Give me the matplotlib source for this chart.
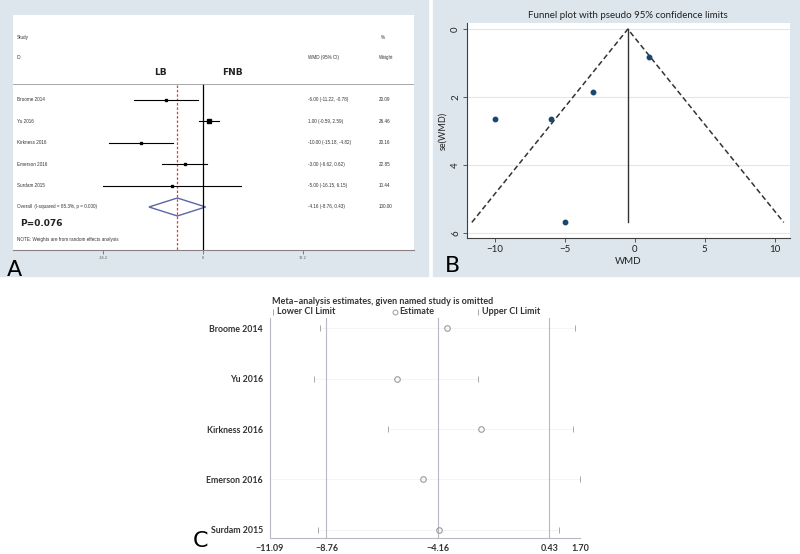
import matplotlib.pyplot as plt
from matplotlib.patches import Rectangle, Polygon
from matplotlib.lines import Line2D
import matplotlib.transforms as mtransforms

# ============== DATA ==============
studies = ["Broome 2014", "Yu 2016", "Kirkness 2016", "Emerson 2016", "Surdam 2015"]
wmd = [-6.00, 1.00, -10.00, -3.00, -5.00]
ci_low = [-11.22, -0.59, -15.18, -6.62, -16.15]
ci_high = [-0.78, 2.59, -4.82, 0.62, 6.15]
weights = [20.09, 26.46, 20.16, 22.85, 10.44]
overall = [-4.16, -8.76, 0.43]  # estimate, lower, upper
overall_label = "Overall  (I-squared = 85.3%, p = 0.000)"
p_text = "P=0.076"

# funnel plot (B)
se_wmd = [2.66, 0.81, 2.64, 1.85, 5.69]
funnel_center = -0.5
funnel_max_se = 5.69

# leave-one-out (C)
loo_lower = [-9.03, -9.27, -6.22, -11.09, -9.11]
loo_est = [-3.79, -5.85, -2.39, -4.78, -4.12]
loo_upper = [1.49, -2.51, 1.41, 1.70, 0.83]
c_ticks = [-11.09, -8.76, -4.16, 0.43, 1.70]

# ==================================

W, H = 800, 554
BG = '#dce6ec'


def box(x0, y0, x1, y1):
    return [x0 / W, 1 - y1 / H, (x1 - x0) / W, (y1 - y0) / H]


fig = plt.figure(figsize=(8, 5.54), dpi=100)
fig.patch.set_facecolor('white')

# panel backgrounds
fig.patches.append(Rectangle((0, 1 - 276 / H), 428 / W, 276 / H, transform=fig.transFigure,
                             color=BG, zorder=-5))
fig.patches.append(Rectangle((433 / W, 1 - 276 / H), 367 / W, 276 / H, transform=fig.transFigure,
                             color=BG, zorder=-5))

# ---------------- A: forest plot ----------------
axA = fig.add_axes(box(13, 15, 414, 250))
axA.set_facecolor('white')
axA.set_xlim(-30.8, 34.2)
axA.set_ylim(7.01, -3.97)
for s in ['top', 'left', 'right']:
    axA.spines[s].set_visible(False)
axA.spines['bottom'].set_color('#8a8080')
axA.spines['bottom'].set_linewidth(0.8)
axA.set_yticks([])
axA.set_xticks([-16.15, 0, 16.15])
axA.set_xticklabels(['-16.2', '0', '16.2'], fontsize=2.5, color='#555555')
axA.tick_params(axis='x', length=3, width=0.5, pad=1, color='#555555')

tA = mtransforms.blended_transform_factory(axA.transAxes, axA.transData)
fA = dict(fontsize=3.3, color='#333333', family='Liberation Sans', va='center', transform=tA)
axA.text(0.01, -2.94, "Study", **fA)
axA.text(0.01, -2.0, "ID", **fA)
axA.text(0.735, -2.0, "WMD (95% CI)", **fA)
axA.text(0.918, -2.94, "%", **fA)
axA.text(0.913, -2.0, "Weight", **fA)
axA.axhline(-0.75, color='#999999', lw=0.6)
axA.text(-6.9, -1.3, "LB", fontsize=6.5, ha='center', va='center', color='#222222', fontweight='semibold')
axA.text(4.8, -1.3, "FNB", fontsize=6.5, ha='center', va='center', color='#222222', fontweight='semibold')

axA.plot([0, 0], [-0.7, 7.01], color='black', lw=0.9)
axA.plot([overall[0], overall[0]], [-0.7, 7.01], color='#e03c3c', lw=0.9, ls=(0, (2, 1.5)))

for i, name in enumerate(studies):
    axA.plot([ci_low[i], ci_high[i]], [i, i], color='black', lw=0.8)
    axA.plot(wmd[i], i, marker='s', color='black', markersize=weights[i] ** 0.5 * 0.45)
    axA.text(0.01, i, name, **fA)
    axA.text(0.735, i, "%.2f (%.2f, %.2f)" % (wmd[i], ci_low[i], ci_high[i]), **fA)
    axA.text(0.913, i, "%.2f" % weights[i], **fA)

ny = len(studies)
axA.add_patch(Polygon([[overall[1], ny], [overall[0], ny - 0.42], [overall[2], ny], [overall[0], ny + 0.42]],
                      closed=True, fill=False, edgecolor='#5b66a6', lw=1.0))
axA.text(0.01, ny, overall_label, **fA)
axA.text(0.735, ny, "%.2f (%.2f, %.2f)" % (overall[0], overall[1], overall[2]), **fA)
axA.text(0.913, ny, "%.2f" % sum(weights), **fA)
axA.text(0.018, 5.75, p_text, fontsize=6.5, fontweight='semibold', color='#222222', va='center', transform=tA)
axA.text(0.01, 6.54, "NOTE: Weights are from random effects analysis", **fA)

fig.text(7 / W, 1 - 270 / H, "A", fontsize=16, va='center', ha='left', color='black')

# ---------------- B: funnel plot ----------------
axB = fig.add_axes(box(467, 23, 790, 238))
axB.set_facecolor('white')
axB.set_xlim(-12.0, 11.1)
axB.set_ylim(6.15, -0.18)
for s in ['top', 'right']:
    axB.spines[s].set_visible(False)
for s in ['left', 'bottom']:
    axB.spines[s].set_color('#404040')
    axB.spines[s].set_linewidth(0.8)
axB.set_xticks([-10, -5, 0, 5, 10])
axB.set_yticks([0, 2, 4, 6])
axB.set_xticklabels(['\u221210', '\u22125', '0', '5', '10'], family='Lato', fontsize=7, color='#222222')
axB.set_yticklabels(['0', '2', '4', '6'], rotation=90, va='center', family='Lato', fontsize=7, color='#222222')
axB.tick_params(length=3, width=0.6, pad=2, color='#404040')
axB.grid(axis='y', color='#e0e8ee', lw=0.8)
axB.set_axisbelow(True)

lo_x = funnel_center - 1.96 * funnel_max_se
hi_x = funnel_center + 1.96 * funnel_max_se
axB.plot([lo_x, funnel_center, hi_x], [funnel_max_se, 0, funnel_max_se], color='#333333', lw=1.1,
         ls=(0, (3.5, 2)))
axB.plot([funnel_center, funnel_center], [0, funnel_max_se], color='#333333', lw=1.0)
axB.plot(wmd, se_wmd, 'o', color='#1a476f', markersize=3.2)
axB.set_xlabel("WMD", family='Lato', fontsize=7, labelpad=2, color='#222222')
axB.set_ylabel("se(WMD)", family='Lato', fontsize=6.5, labelpad=3, color='#222222')
fig.text(628 / W, 1 - 15 / H, "Funnel plot with pseudo 95% confidence limits", family='Lato',
         fontsize=7, ha='center', va='center', color='#222222')
fig.text(445 / W, 1 - 266 / H, "B", fontsize=16, va='center', ha='left', color='black')

# ---------------- C: sensitivity analysis ----------------
axC = fig.add_axes(box(270, 318, 580, 538))
axC.set_facecolor('white')
axC.set_xlim(c_ticks[0], c_ticks[-1])
axC.set_ylim(len(studies) - 1 + 0.16, -0.2)
for s in ['top', 'right']:
    axC.spines[s].set_visible(False)
for s in ['left', 'bottom']:
    axC.spines[s].set_color('#b8b8c4')
    axC.spines[s].set_linewidth(0.8)
axC.set_xticks(c_ticks)
axC.set_xticklabels(['\u221211.09', '\u22128.76', '\u22124.16', '0.43', '1.70'], family='Lato',
                    fontsize=6.5, fontweight='bold', color='#333333')
axC.tick_params(axis='x', length=0, pad=4)
axC.set_yticks(range(len(studies)))
axC.set_yticklabels(studies, family='Lato', fontsize=6.3, fontweight='bold', color='#333333')
axC.tick_params(axis='y', length=0, pad=5)
for v in c_ticks[1:4]:
    axC.axvline(v, color='#b8b8c4', lw=0.8)
for i in range(len(studies)):
    axC.plot([loo_lower[i], loo_upper[i]], [i, i], color='#f2f2f2', lw=0.6, zorder=1)
axC.plot(loo_lower, range(len(studies)), '|', color='#a8a8a8', markersize=5, mew=0.7, clip_on=False)
axC.plot(loo_upper, range(len(studies)), '|', color='#a8a8a8', markersize=5, mew=0.7, clip_on=False)
axC.plot(loo_est, range(len(studies)), 'o', mfc='none', mec='#9a9a9a', markersize=4, mew=0.8, clip_on=False)

fig.text(272 / W, 1 - 301 / H, "Meta\u2013analysis estimates, given named study is omitted", family='Lato',
         fontsize=6.5, fontweight='bold', color='#333333', va='center', ha='left')
leg_y = 1 - 312 / H
fig.add_artist(Line2D([273 / W], [leg_y], marker='|', color='#a8a8a8', markersize=4, mew=0.7))
fig.text(277 / W, leg_y, "Lower CI Limit", family='Lato', fontsize=6.5, fontweight='bold',
         color='#333333', va='center')
fig.add_artist(Line2D([395 / W], [leg_y], marker='o', mfc='none', mec='#9a9a9a', markersize=3.5, mew=0.7))
fig.text(399 / W, leg_y, "Estimate", family='Lato', fontsize=6.5, fontweight='bold',
         color='#333333', va='center')
fig.add_artist(Line2D([478 / W], [leg_y], marker='|', color='#a8a8a8', markersize=4, mew=0.7))
fig.text(482 / W, leg_y, "Upper CI Limit", family='Lato', fontsize=6.5, fontweight='bold',
         color='#333333', va='center')
fig.text(193 / W, 1 - 541 / H, "C", fontsize=16, va='center', ha='left', color='black')

fig.savefig('out.png', dpi=100)
